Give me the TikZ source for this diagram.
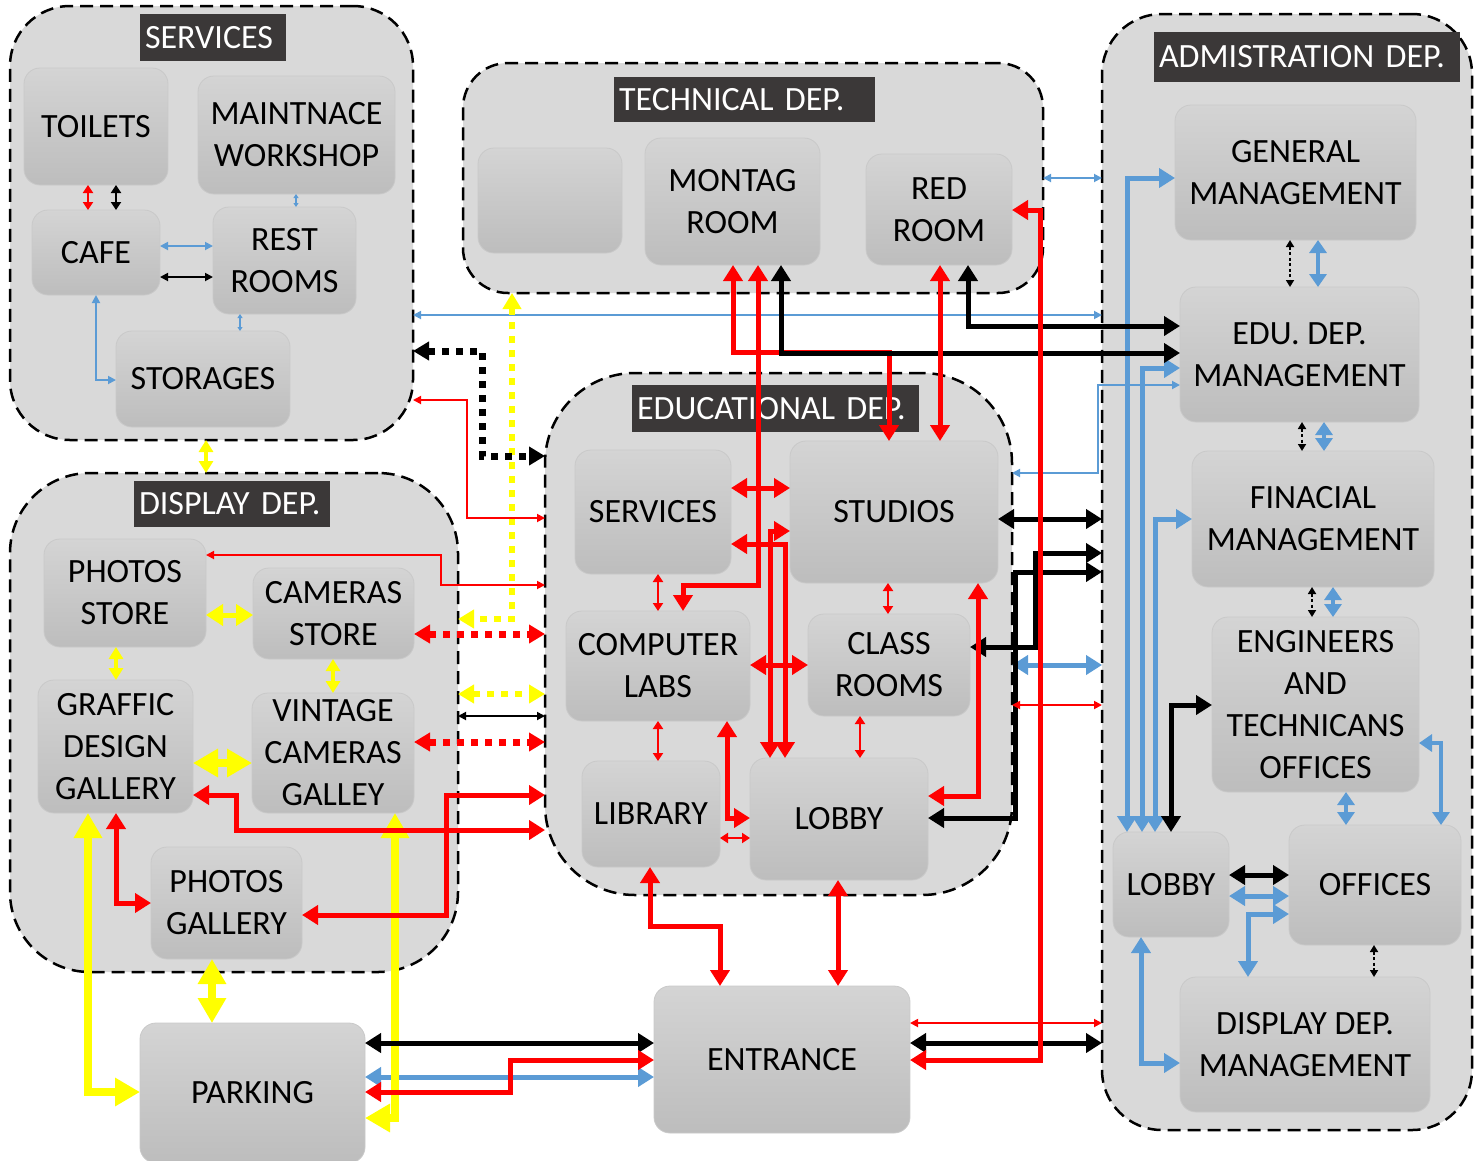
\documentclass[tikz,border=0pt]{standalone}
\usepackage{fontspec}
\setmainfont{Carlito}
\usetikzlibrary{arrows.meta}
\definecolor{grpfill}{HTML}{D9D9D9}
\definecolor{ttlfill}{HTML}{3B3838}
\definecolor{boxtop}{HTML}{D4D4D4}
\definecolor{boxbot}{HTML}{BDBDBD}
\definecolor{boxline}{HTML}{C9C9C9}
\definecolor{blu}{HTML}{5B9BD5}
\definecolor{yel}{HTML}{FFFF00}
\newcommand\lblfont{\fontsize{34}{42}\selectfont}
\tikzset{
  grp/.style={draw=black, line width=2.5pt, dash pattern=on 13pt off 7pt, fill=grpfill, rounded corners=#1, inner sep=0pt, outer sep=0pt},
  ttl/.style={fill=ttlfill, text=white, font=\lblfont, inner ysep=0pt, inner xsep=5pt, outer sep=0pt, align=left},
  room/.style={rounded corners=16pt, top color=boxtop, bottom color=boxbot, draw=boxline, line width=0.8pt, align=center, font=\lblfont, inner sep=0pt, outer sep=0pt},
  lnA/.style={line width=5pt, >={Triangle[length=16pt,width=19pt]}},
  lnB/.style={line width=1.8pt, >={Triangle[length=8pt,width=8pt]}},
  lnC/.style={line width=2.8pt, >={Triangle[length=8pt,width=10pt]}},
  lnD/.style={line width=4pt, >={Triangle[length=13pt,width=17pt]}},
  lnT/.style={line width=1.2pt, >={Triangle[length=4pt,width=5pt]}},
  lnY/.style={yel, line width=8pt, >={Triangle[length=25pt,width=27pt]}},
  lnYm/.style={yel, line width=5pt, >={Triangle[length=17pt,width=21pt]}},
  lnYs/.style={yel, line width=4pt, >={Triangle[length=12pt,width=14pt]}},
  dotL/.style={line width=7pt, dash pattern=on 7pt off 7pt, >={Triangle[length=16pt,width=18pt]}},
  dotS/.style={line width=2.5pt, dash pattern=on 3pt off 2.5pt, >={Triangle[length=7pt,width=8pt]}}
}
\begin{document}
\begin{tikzpicture}[x=1pt, y=-1pt]
\useasboundingbox (0,0) rectangle (1482,1160);

% department areas
\node[grp=60pt, minimum width=403pt, minimum height=434pt] (gServ) at (211.5,223) {};
\node[grp=45pt, minimum width=580pt, minimum height=230pt] (gTech) at (753,178) {};
\node[grp=60pt, minimum width=370pt, minimum height=1116pt] (gAdmin) at (1287,572) {};
\node[grp=90pt, minimum width=467pt, minimum height=522pt] (gEdu) at (778.5,634) {};
\node[grp=80pt, minimum width=448pt, minimum height=499pt] (gDisp) at (234,722.5) {};

% department titles
\node[ttl, text width=136pt, minimum height=47pt] (tServ) at (213,37.5) {SERVICES};
\node[ttl, text width=251pt, minimum height=45pt] (tTech) at (744.5,99.5) {TECHNICAL DEP.};
\node[ttl, text width=296pt, minimum height=50pt] (tAdmin) at (1307,57) {ADMISTRATION DEP.};
\node[ttl, text width=277pt, minimum height=47pt] (tEdu) at (775.5,408.5) {EDUCATIONAL DEP.};
\node[ttl, text width=186pt, minimum height=46pt] (tDisp) at (232,504) {DISPLAY DEP.};

% services
\node[room, minimum width=144pt, minimum height=117pt] (toilets) at (96,126.5) {TOILETS};
\node[room, minimum width=197pt, minimum height=118pt] (maint) at (296.5,135) {MAINTNACE\\WORKSHOP};
\node[room, minimum width=128pt, minimum height=85pt] (cafe) at (96,252.5) {CAFE};
\node[room, minimum width=143pt, minimum height=107pt] (rest) at (284.5,260.5) {REST\\ROOMS};
\node[room, minimum width=174pt, minimum height=96pt] (storages) at (203,379) {STORAGES};
% technical
\node[room, minimum width=144pt, minimum height=105pt] (blank) at (550,200.5) {};
\node[room, minimum width=175pt, minimum height=127pt] (montag) at (732.5,201.5) {MONTAG\\ROOM};
\node[room, minimum width=146pt, minimum height=111pt] (redroom) at (939,209.5) {RED\\ROOM};
% administration
\node[room, minimum width=241pt, minimum height=135pt] (genm) at (1295.5,172.5) {GENERAL\\MANAGEMENT};
\node[room, minimum width=239pt, minimum height=135pt] (edum) at (1299.5,354.5) {EDU. DEP.\\MANAGEMENT};
\node[room, minimum width=242pt, minimum height=136pt] (finm) at (1313,519) {FINACIAL\\MANAGEMENT};
\node[room, minimum width=207pt, minimum height=175pt] (eng) at (1315.5,704.5) {ENGINEERS\\AND\\TECHNICANS\\OFFICES};
\node[room, minimum width=116pt, minimum height=105pt] (alobby) at (1171,884.5) {LOBBY};
\node[room, minimum width=172pt, minimum height=120pt] (offices) at (1375,885) {OFFICES};
\node[room, minimum width=250pt, minimum height=135pt] (dispm) at (1305,1044.5) {DISPLAY DEP.\\MANAGEMENT};
% educational
\node[room, minimum width=156pt, minimum height=124pt] (eserv) at (653,512) {SERVICES};
\node[room, minimum width=208pt, minimum height=142pt] (studios) at (894,512) {STUDIOS};
\node[room, minimum width=184pt, minimum height=110pt] (comp) at (658,666) {COMPUTER\\LABS};
\node[room, minimum width=162pt, minimum height=102pt] (class) at (889,665) {CLASS\\ROOMS};
\node[room, minimum width=138pt, minimum height=106pt] (library) at (651,814) {LIBRARY};
\node[room, minimum width=178pt, minimum height=122pt] (elobby) at (839,819) {LOBBY};
% display
\node[room, minimum width=162pt, minimum height=108pt] (pstore) at (125,593) {PHOTOS\\STORE};
\node[room, minimum width=161pt, minimum height=91pt] (cstore) at (333.5,613.5) {CAMERAS\\STORE};
\node[room, minimum width=155pt, minimum height=133pt] (graffic) at (115.5,746.5) {GRAFFIC\\DESIGN\\GALLERY};
\node[room, minimum width=162pt, minimum height=120pt] (vintage) at (333,753) {VINTAGE\\CAMERAS\\GALLEY};
\node[room, minimum width=151pt, minimum height=112pt] (pgallery) at (226.5,903) {PHOTOS\\GALLERY};
% outside
\node[room, minimum width=225pt, minimum height=140pt] (parking) at (252.5,1093) {PARKING};
\node[room, minimum width=256pt, minimum height=147pt] (entrance) at (782,1059.5) {ENTRANCE};

% ---------- blue links ----------
\draw[lnT, blu, <->] (maint.south -| 296,0) -- (rest.north -| 296,0);
\draw[lnT, blu, <->] (rest.south -| 240,0) -- (storages.north -| 240,0);
\draw[lnB, blu, <->] (cafe.east |- 0,246) -- (rest.west |- 0,246);
\draw[lnB, blu, <->] (cafe.south -| 96,0) |- (storages.west |- 0,380);
\draw[lnB, blu, <->] (gServ.east |- 0,315) -- (gAdmin.west |- 0,315);
\draw[lnB, blu, <->] (gTech.east |- 0,178) -- (gAdmin.west |- 0,178);
\draw[lnB, blu, <->] (edum.west |- 0,385) -| (1098,473) -- (gEdu.east |- 0,473);
\draw[lnA, blu, <->] (gEdu.east |- 0,665) -- (gAdmin.west |- 0,665);
\draw[lnA, blu, <->] (parking.east |- 0,1077) -- (entrance.west |- 0,1077);
\draw[lnD, blu, <->] (genm.south -| 1318,0) -- (edum.north -| 1318,0);
\draw[lnD, blu, <->] (edum.south -| 1324,0) -- (finm.north -| 1324,0);
\draw[lnD, blu, <->] (finm.south -| 1333,0) -- (eng.north -| 1333,0);
\draw[lnD, blu, <->] (eng.south -| 1346,0) -- (offices.north -| 1346,0);
\draw[lnD, blu, <->] (eng.east |- 0,743) -| (offices.north -| 1441,0);
\draw[lnA, blu, <->] (alobby.east |- 0,896) -- (offices.west |- 0,896);
\draw[lnA, blu, <->] (offices.west |- 0,914) -| (dispm.north -| 1248,0);
\draw[lnA, blu, <->] (alobby.south -| 1141,0) |- (dispm.west |- 0,1063);
\draw[lnA, blu, <->] (alobby.north -| 1127,0) |- (genm.west |- 0,178);
\draw[lnA, blu, <->] (alobby.north -| 1142,0) |- (edum.west |- 0,368);
\draw[lnA, blu, <->] (alobby.north -| 1155,0) |- (finm.west |- 0,519);

% ---------- yellow links ----------
\draw[lnYs, <->] (gServ.south -| 206,0) -- (gDisp.north -| 206,0);
\draw[dotL, yel, line width=5.5pt, <->] (gTech.south -| 512,0) |- (gDisp.east |- 0,619);
\draw[dotL, yel, line width=5.5pt, <->] (gDisp.east |- 0,694) -- (gEdu.west |- 0,694);
\draw[lnYm, <->] (pstore.east |- 0,615) -- (cstore.west |- 0,615);
\draw[lnYs, <->] (pstore.south -| 116,0) -- (graffic.north -| 116,0);
\draw[lnYs, <->] (cstore.south -| 333,0) -- (vintage.north -| 333,0);
\draw[lnY, <->] (graffic.east |- 0,763) -- (vintage.west |- 0,763);
\draw[lnY, <->] (pgallery.south -| 212,0) -- (parking.north -| 212,0);
\draw[lnY, <->] (graffic.south -| 88,0) |- (parking.west |- 0,1092);
\draw[lnY, <->] (vintage.south -| 395,0) |- (parking.east |- 0,1118);

% red route under the black montage link
\draw[lnA, red, <->] (montag.south -| 733,0) |- (889,352) -- (studios.north -| 889,0);

% ---------- black links ----------
\draw[lnC, <->] (toilets.south -| 116,0) -- (cafe.north -| 116,0);
\draw[lnB, <->] (cafe.east |- 0,277) -- (rest.west |- 0,277);
\draw[dotL, <->] (gServ.east |- 0,351) -| (482,456) -- (gEdu.west |- 0,456);
\draw[lnB, <->] (gDisp.east |- 0,716) -- (gEdu.west |- 0,716);
\draw[lnA, <->] (redroom.south -| 968,0) |- (edum.west |- 0,326);
\draw[lnA, <->] (montag.south -| 781,0) |- (edum.west |- 0,353);
\draw[lnA, <->] (studios.east |- 0,519) -- (gAdmin.west |- 0,519);
\draw[lnA, <->] (gAdmin.west |- 0,553) -| (1035,647) -- (class.east |- 0,647);
\draw[lnA, <->] (gAdmin.west |- 0,572) -| (1015,818) -- (elobby.east |- 0,818);
\draw[lnA, <->] (entrance.east |- 0,1043) -- (gAdmin.west |- 0,1043);
\draw[lnA, <->] (parking.east |- 0,1043) -- (entrance.west |- 0,1043);
\draw[lnA, <->] (alobby.north -| 1171,0) |- (eng.west |- 0,705);
\draw[lnA, <->] (alobby.east |- 0,875) -- (offices.west |- 0,875);
\draw[dotS, <->] (genm.south -| 1290,0) -- (edum.north -| 1290,0);
\draw[dotS, <->] (edum.south -| 1302,0) -- (finm.north -| 1302,0);
\draw[dotS, <->] (finm.south -| 1312,0) -- (eng.north -| 1312,0);
\draw[dotS, <->] (offices.south -| 1374,0) -- (dispm.north -| 1374,0);

% ---------- red links ----------
\draw[lnC, red, <->] (toilets.south -| 88,0) -- (cafe.north -| 88,0);
\draw[lnB, red, <->] (gServ.east |- 0,400) -| (467,518) -- (gEdu.west |- 0,518);
\draw[lnB, red, <->] (pstore.east |- 0,555) -| (441,585) -- (gEdu.west |- 0,585);
\draw[dotL, red, <->] (cstore.east |- 0,634) -- (gEdu.west |- 0,634);
\draw[dotL, red, <->] (vintage.east |- 0,742) -- (gEdu.west |- 0,742);
\draw[lnB, red, <->] (gEdu.east |- 0,705) -- (gAdmin.west |- 0,705);
\draw[lnB, red, <->] (entrance.east |- 0,1023) -- (gAdmin.west |- 0,1023);
\draw[lnA, red, <->] (montag.south -| 758,0) |- (683,585) -- (comp.north -| 683,0);
\draw[lnA, red, <->] (redroom.south -| 940,0) -- (studios.north -| 940,0);
\draw[lnA, red, <->] (eserv.east |- 0,488) -- (studios.west |- 0,488);
\draw[lnA, red, <->] (eserv.east |- 0,544) -| (elobby.north -| 785,0);
\draw[lnA, red, <->] (studios.west |- 0,531) -| (elobby.north -| 770,0);
\draw[lnA, red, <->] (comp.east |- 0,665) -- (class.west |- 0,665);
\draw[lnC, red, <->] (eserv.south -| 658,0) -- (comp.north -| 658,0);
\draw[lnC, red, <->] (studios.south -| 888,0) -- (class.north -| 888,0);
\draw[lnC, red, <->] (comp.south -| 658,0) -- (library.north -| 658,0);
\draw[lnC, red, <->] (class.south -| 860,0) -- (elobby.north -| 860,0);
\draw[lnC, red, <->] (library.east |- 0,838) -- (elobby.west |- 0,838);
\draw[lnA, red, <->] (comp.south -| 727,0) |- (elobby.west |- 0,818);
\draw[lnA, red, <->] (studios.south -| 978,0) |- (elobby.east |- 0,796);
\draw[lnA, red, <->] (library.south -| 650,0) |- (720,926) -- (entrance.north -| 720,0);
\draw[lnA, red, <->] (elobby.south -| 838,0) -- (entrance.north -| 838,0);
\draw[lnA, red, <->] (redroom.east |- 0,210) -| (1040,1060) -- (entrance.east |- 0,1060);
\draw[lnA, red, <->] (parking.east |- 0,1092) -| (510,1060) -- (entrance.west |- 0,1060);
\draw[lnA, red, <->] (graffic.south -| 116,0) |- (pgallery.west |- 0,903);
\draw[lnA, red, <->] (pgallery.east |- 0,915) -| (446,795) -- (gEdu.west |- 0,795);
\draw[lnA, red, <->] (graffic.east |- 0,795) -| (236,830) -- (gEdu.west |- 0,830);
\end{tikzpicture}
\end{document}
